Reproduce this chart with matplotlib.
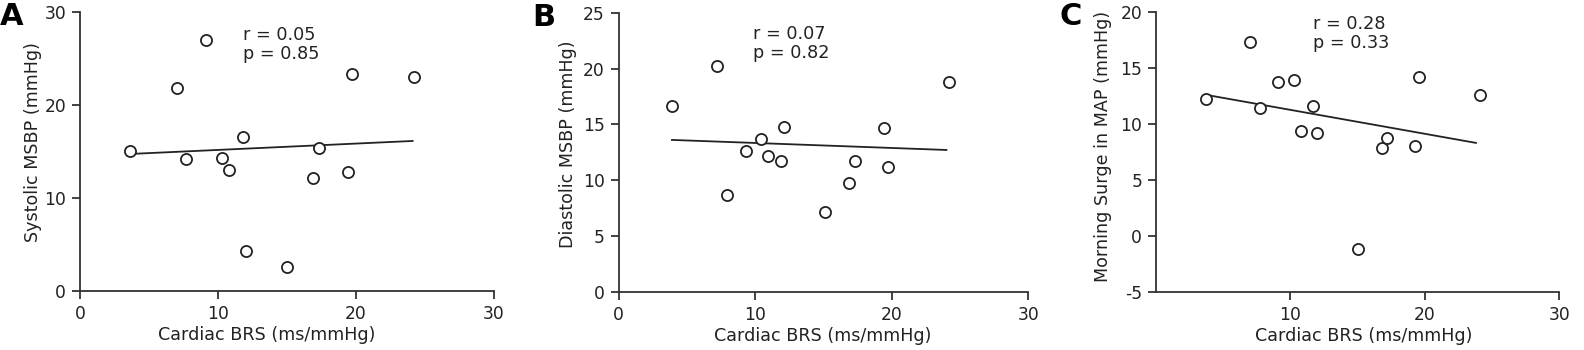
import numpy as np
import matplotlib.pyplot as plt

plt.rcParams["font.family"] = ["DejaVu Sans"]
plt.rcParams["axes.unicode_minus"] = False

# cardiac BRS (ms/mmHg), same subjects in every panel
brs_a = [3.6, 7.0, 7.7, 9.1, 10.3, 10.8, 11.8, 12.0, 15.0, 16.9, 17.3, 19.4, 19.7, 24.2]
sys_msbp = [15.0, 21.8, 14.2, 27.0, 14.3, 13.0, 16.5, 4.3, 2.6, 12.1, 15.3, 12.8, 23.3, 23.0]

brs_b = [3.9, 7.2, 7.9, 9.3, 10.4, 10.9, 11.9, 12.1, 15.1, 16.9, 17.3, 19.4, 19.7, 24.2]
dia_msbp = [16.6, 20.2, 8.7, 12.6, 13.7, 12.2, 11.7, 14.8, 7.1, 9.7, 11.7, 14.7, 11.2, 18.8]

brs_c = [3.7, 7.0, 7.7, 9.1, 10.3, 10.8, 11.7, 12.0, 15.0, 16.8, 17.2, 19.3, 19.6, 24.1]
map_surge = [12.2, 17.3, 11.4, 13.7, 13.9, 9.4, 11.6, 9.2, -1.2, 7.8, 8.7, 8.0, 14.2, 12.6]

# regression lines as drawn (x start/end, y start/end)
fit_x = [[3.6, 24.1], [3.9, 24.0], [3.7, 23.8]]
fit_y = [[14.7, 16.1], [13.6, 12.7], [12.6, 8.3]]

stats = ["r = 0.05\np = 0.85", "r = 0.07\np = 0.82", "r = 0.28\np = 0.33"]
ylabels = ["Systolic MSBP (mmHg)", "Diastolic MSBP (mmHg)", "Morning Surge in MAP (mmHg)"]
letters = ["A", "B", "C"]

ink = "#222222"

fig = plt.figure(figsize=(15.84, 3.5), dpi=100)
boxes = [
    [0.0505, 0.1694, 0.2614, 0.7972],
    [0.3906, 0.1666, 0.2586, 0.7971],
    [0.7298, 0.1666, 0.2546, 0.7991],
]
panels = [
    (brs_a, sys_msbp, (0, 30), np.arange(0, 31, 10), np.arange(0, 31, 10)),
    (brs_b, dia_msbp, (0, 25), np.arange(0, 26, 5), np.arange(0, 31, 10)),
    (brs_c, map_surge, (-5, 20), np.arange(-5, 21, 5), np.arange(10, 31, 10)),
]
text_pos = [(0.394, 0.949), (0.327, 0.956), (0.390, 0.989)]
ylab_pos = [(-0.0925, 0.534), (-0.1025, 0.529), (-0.11, 0.518)]
xlab_pos = [(0.451, -0.127), (0.499, -0.125), (0.514, -0.125)]
letter_pos = [(0.0, 0.995), (0.336, 0.99), (0.669, 0.995)]

for i, (x, y, ylim, yt, xt) in enumerate(panels):
    ax = fig.add_axes(boxes[i])
    ax.plot(x, y, "o", ms=8, mfc="white", mec=ink, mew=1.3, zorder=3)
    ax.plot(fit_x[i], fit_y[i], "-", color=ink, lw=1.3, zorder=2)
    ax.set_xlim(0, 30)
    ax.set_ylim(*ylim)
    ax.set_xticks(xt)
    ax.set_yticks(yt)
    for s in ["top", "right"]:
        ax.spines[s].set_visible(False)
    for s in ["left", "bottom"]:
        ax.spines[s].set_color("#333333")
        ax.spines[s].set_linewidth(1.3)
    ax.tick_params(direction="out", length=6, width=1.3, color="#333333",
                   labelsize=12.3, labelcolor=ink, pad=4)
    ax.set_xlabel("Cardiac BRS (ms/mmHg)", fontsize=12.6, color=ink)
    ax.set_ylabel(ylabels[i], fontsize=12.6, color=ink)
    ax.xaxis.set_label_coords(*xlab_pos[i])
    ax.yaxis.set_label_coords(*ylab_pos[i])
    ax.text(*text_pos[i], stats[i], transform=ax.transAxes, ha="left", va="top",
            fontsize=12.7, color=ink, linespacing=1.05)
    fig.text(*letter_pos[i], letters[i], ha="left", va="top",
             fontsize=22, fontweight="bold", color="black")

fig.savefig("out.png", dpi=100)
